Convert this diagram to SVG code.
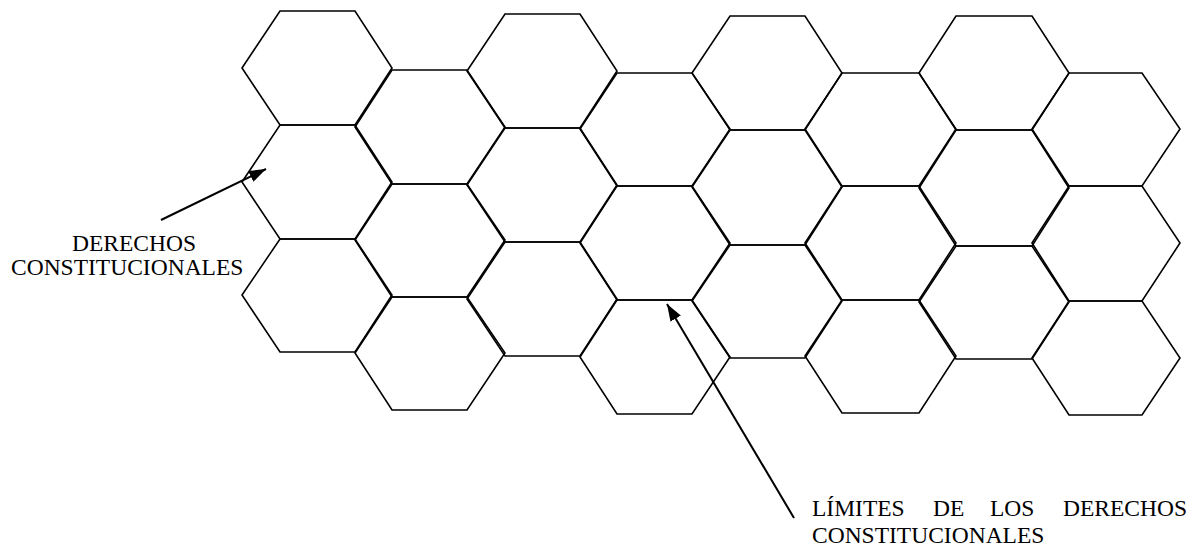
<svg xmlns="http://www.w3.org/2000/svg" width="1197" height="548" viewBox="0 0 1197 548">
<style>
.hex{fill:none;stroke:#000;stroke-width:1.6;stroke-linejoin:miter}
.arr{fill:none;stroke:#000;stroke-width:2}
.t{font-family:"Liberation Serif","Times New Roman",serif;font-size:23.5px;fill:#000}
</style>
<defs>
<marker id="ah" markerUnits="userSpaceOnUse" markerWidth="20" markerHeight="14" refX="17" refY="6" orient="auto">
<path d="M0,0 L17,6 L0,12 Z" fill="#000"/>
</marker>
</defs>
<rect width="1197" height="548" fill="#fff"/>
<g id="col1">
<polygon id="h1a" class="hex" points="242,68 280,11 355,11 392,68 355,125 280,125"/>
<polygon id="h1b" class="hex" points="242,182 280,125 355,125 392,182 355,239 280,239"/>
<polygon id="h1c" class="hex" points="242,295 280,239 355,239 392,295 355,352 280,352"/>
</g>
<g id="col2">
<polygon id="h2a" class="hex" points="355,127 392,70 467,70 505,127 467,184 392,184"/>
<polygon id="h2b" class="hex" points="355,240 392,184 467,184 505,240 467,297 392,297"/>
<polygon id="h2c" class="hex" points="355,353 392,297 467,297 505,353 467,410 392,410"/>
</g>
<g id="col3">
<polygon id="h3a" class="hex" points="467,71 505,14 580,14 617,71 580,128 505,128"/>
<polygon id="h3b" class="hex" points="467,185 505,128 580,128 617,185 580,242 505,242"/>
<polygon id="h3c" class="hex" points="467,299 505,242 580,242 617,299 580,356 505,356"/>
</g>
<g id="col4">
<polygon id="h4a" class="hex" points="580,129 617,73 692,73 730,129 692,186 617,186"/>
<polygon id="h4b" class="hex" points="580,243 617,186 692,186 730,243 692,300 617,300"/>
<polygon id="h4c" class="hex" points="580,357 617,300 692,300 730,357 692,414 617,414"/>
</g>
<g id="col5">
<polygon id="h5a" class="hex" points="692,73 730,16 805,16 842,73 805,130 730,130"/>
<polygon id="h5b" class="hex" points="692,187 730,130 805,130 842,187 805,245 730,245"/>
<polygon id="h5c" class="hex" points="692,301 730,245 805,245 842,301 805,358 730,358"/>
</g>
<g id="col6">
<polygon id="h6a" class="hex" points="805,129 842,73 919,73 956,129 919,186 842,186"/>
<polygon id="h6b" class="hex" points="805,243 842,186 919,186 956,243 919,300 842,300"/>
<polygon id="h6c" class="hex" points="805,356 842,300 919,300 956,356 919,413 842,413"/>
</g>
<g id="col7">
<polygon id="h7a" class="hex" points="919,73 956,16 1032,16 1069,73 1032,130 956,130"/>
<polygon id="h7b" class="hex" points="919,188 956,130 1032,130 1069,188 1032,246 956,246"/>
<polygon id="h7c" class="hex" points="919,302 956,246 1032,246 1069,302 1032,359 956,359"/>
</g>
<g id="col8">
<polygon id="h8a" class="hex" points="1032,129 1069,73 1142,73 1180,129 1142,186 1069,186"/>
<polygon id="h8b" class="hex" points="1032,243 1069,186 1142,186 1180,243 1142,301 1069,301"/>
<polygon id="h8c" class="hex" points="1032,358 1069,301 1142,301 1180,358 1142,415 1069,415"/>
</g>
<g id="connectors">
<line class="arr" x1="161" y1="220" x2="266" y2="169" marker-end="url(#ah)"/>
<line class="arr" x1="794" y1="518" x2="667" y2="304" marker-end="url(#ah)"/>
</g>
<g id="label-derechos">
<text class="t" x="72" y="251">DERECHOS</text>
<text class="t" x="11" y="275">CONSTITUCIONALES</text>
</g>
<g id="label-limites">
<text class="t" x="812" y="516">LÍMITES</text>
<text class="t" x="933" y="516">DE</text>
<text class="t" x="990" y="516">LOS</text>
<text class="t" x="1187" y="516" text-anchor="end">DERECHOS</text>
<text class="t" x="812" y="543">CONSTITUCIONALES</text>
</g>
</svg>
